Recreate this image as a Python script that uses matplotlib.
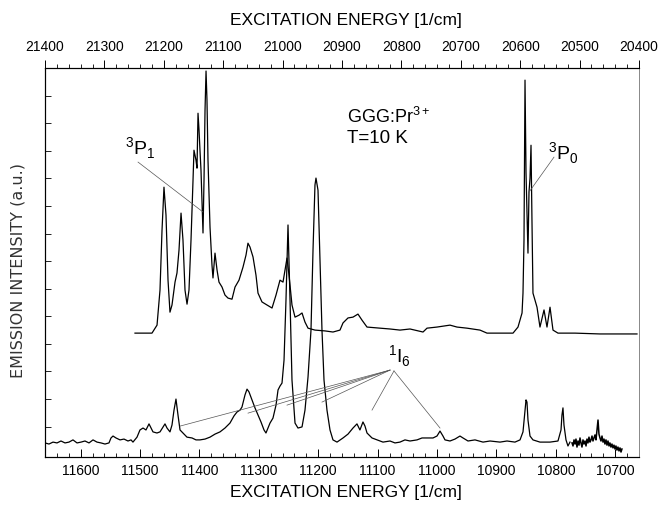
import matplotlib
matplotlib.use("Agg")
import matplotlib.pyplot as plt
from matplotlib.ticker import MultipleLocator, FormatStrFormatter

plt.rcParams["font.family"] = ["Liberation Sans", "DejaVu Sans"]

# ---- upper spectrum (3P levels, top axis, cm^-1) ----
upper_E = [21248.5, 21219.9, 21211.4, 21206.4, 21203.0, 21199.7, 21196.3, 21192.9, 21189.6, 21186.2,
           21181.1, 21177.8, 21174.4, 21171.0, 21167.7, 21164.3, 21160.9, 21157.6, 21154.2, 21150.8,
           21149.2, 21145.8, 21144.1, 21142.4, 21140.7, 21139.1, 21137.4, 21134.0, 21132.3, 21130.6,
           21128.9, 21127.3, 21125.6, 21122.2, 21118.9, 21117.2, 21113.8, 21110.4, 21107.1, 21102.0,
           21097.0, 21091.9, 21085.2, 21080.1, 21073.4, 21066.7, 21061.6, 21058.3, 21054.9, 21049.8,
           21044.8, 21041.4, 21034.7, 21026.3, 21017.8, 21011.1, 21004.4, 20999.3, 20995.9, 20992.6,
           20989.2, 20984.2, 20979.1, 20972.4, 20967.3, 20962.3, 20957.2, 20945.5, 20928.6, 20915.2,
           20903.4, 20898.3, 20889.9, 20881.5, 20873.1, 20866.3, 20857.9, 20836.0, 20819.2, 20802.4,
           20785.5, 20763.6, 20756.9, 20740.1, 20718.2, 20706.4, 20689.6, 20667.7, 20655.9, 20634.0,
           20612.1, 20603.7, 20596.9, 20595.3, 20593.6, 20591.9, 20590.2, 20586.9, 20585.2, 20583.5,
           20581.8, 20580.2, 20578.5, 20571.7, 20566.7, 20559.9, 20554.9, 20549.8, 20544.8, 20536.4,
           20507.7, 20465.7, 20403.4]
upper_I = [4.39, 4.39, 4.68, 5.95, 8.12, 9.68, 8.67, 6.31, 5.15, 5.41,
           6.24, 6.57, 7.40, 8.74, 7.76, 5.95, 5.44, 5.95, 7.76, 9.94,
           11.02, 10.66, 10.37, 12.36, 11.75, 11.02, 10.30, 8.02, 9.94, 12.47,
           13.89, 12.83, 10.66, 8.23, 6.86, 6.39, 7.29, 6.68, 6.24, 6.06,
           5.77, 5.66, 5.62, 6.06, 6.31, 6.78, 7.22, 7.65, 7.51, 7.15,
           6.49, 5.84, 5.52, 5.41, 5.30, 5.77, 6.31, 6.24, 6.68, 7.11,
           6.49, 5.41, 4.97, 5.04, 5.12, 4.79, 4.57, 4.50, 4.47, 4.43,
           4.50, 4.76, 4.94, 4.97, 5.08, 4.86, 4.61, 4.57, 4.54, 4.50,
           4.54, 4.43, 4.57, 4.61, 4.68, 4.61, 4.57, 4.50, 4.39, 4.39,
           4.39, 4.61, 5.12, 5.84, 7.76, 13.56, 10.19, 7.29, 9.50, 10.00,
           11.20, 8.49, 5.84, 5.33, 4.61, 5.23, 4.61, 5.33, 4.50, 4.39,
           4.39, 4.36, 4.36]

# ---- lower spectrum (1I6 region, bottom axis, cm^-1) ----
lower_E = [11660.0, 11653.3, 11646.5, 11639.8, 11633.1, 11626.3, 11619.6, 11612.9, 11606.1, 11599.4,
           11592.7, 11585.9, 11579.2, 11572.5, 11565.7, 11559.0, 11552.3, 11548.9, 11545.5, 11540.5,
           11533.7, 11527.0, 11520.3, 11515.2, 11511.9, 11505.1, 11500.1, 11495.0, 11490.0, 11484.9,
           11481.5, 11478.2, 11471.5, 11466.4, 11461.3, 11458.0, 11454.6, 11449.6, 11446.2, 11442.8,
           11439.5, 11436.1, 11432.7, 11426.0, 11421.0, 11412.5, 11405.8, 11399.1, 11390.6, 11382.2,
           11373.8, 11365.4, 11357.0, 11348.6, 11341.8, 11336.8, 11331.7, 11328.4, 11323.3, 11319.9,
           11316.6, 11311.5, 11306.5, 11301.4, 11296.4, 11291.3, 11288.0, 11284.6, 11281.2, 11276.2,
           11271.1, 11267.7, 11264.4, 11261.0, 11257.6, 11254.3, 11250.9, 11247.5, 11244.2, 11239.1,
           11234.1, 11227.3, 11222.3, 11217.2, 11212.2, 11208.8, 11205.5, 11203.8, 11200.4, 11197.0,
           11193.7, 11190.3, 11185.3, 11180.2, 11175.2, 11168.4, 11158.3, 11149.9, 11141.5, 11134.8,
           11129.8, 11124.7, 11121.3, 11117.9, 11109.5, 11101.1, 11091.0, 11079.2, 11070.8, 11062.4,
           11054.0, 11045.5, 11033.7, 11025.3, 11016.9, 11006.8, 11000.1, 10995.0, 10990.0, 10986.6,
           10978.2, 10969.8, 10961.4, 10956.3, 10947.9, 10936.1, 10922.6, 10910.8, 10894.0, 10882.2,
           10868.8, 10860.3, 10855.3, 10851.9, 10850.2, 10848.6, 10846.9, 10843.5, 10838.5, 10826.7,
           10809.8, 10796.4, 10791.3, 10789.7, 10788.0, 10786.3, 10782.9, 10779.6, 10776.2]
lower_I = [0.41, 0.37, 0.44, 0.41, 0.48, 0.41, 0.44, 0.52, 0.41, 0.44,
           0.48, 0.41, 0.52, 0.44, 0.41, 0.37, 0.41, 0.59, 0.66, 0.59,
           0.52, 0.55, 0.48, 0.52, 0.44, 0.62, 0.88, 0.95, 0.88, 1.10,
           0.95, 0.81, 0.77, 0.81, 0.99, 1.10, 0.95, 0.81, 1.06, 1.60,
           2.00, 1.42, 0.88, 0.73, 0.62, 0.59, 0.52, 0.52, 0.55, 0.62,
           0.73, 0.81, 0.95, 1.13, 1.39, 1.53, 1.60, 1.71, 2.15, 2.36,
           2.26, 1.97, 1.68, 1.42, 1.17, 0.88, 0.77, 0.95, 1.13, 1.31,
           1.78, 2.33, 2.47, 2.58, 3.41, 5.59, 8.31, 5.59, 2.69, 1.13,
           0.95, 0.99, 1.60, 2.80, 4.50, 7.40, 9.76, 10.01, 9.57, 7.04,
           4.50, 2.69, 1.60, 0.88, 0.52, 0.44, 0.59, 0.73, 0.95, 1.10,
           0.88, 1.17, 1.02, 0.77, 0.59, 0.52, 0.44, 0.48, 0.41, 0.44,
           0.52, 0.48, 0.52, 0.59, 0.59, 0.59, 0.66, 0.84, 0.66, 0.52,
           0.48, 0.55, 0.66, 0.59, 0.48, 0.52, 0.44, 0.48, 0.44, 0.48,
           0.44, 0.52, 0.81, 1.60, 1.97, 1.89, 1.24, 0.66, 0.52, 0.44,
           0.44, 0.48, 0.88, 1.42, 1.68, 1.06, 0.52, 0.30, 0.44]

# noisy tail of the lower spectrum
tail_E = [10772.8, 10771.1, 10769.4, 10767.7, 10766.1, 10764.4, 10762.7, 10761.0, 10759.3, 10757.7,
          10756.0, 10754.3, 10752.6, 10750.9, 10749.2, 10747.6, 10745.9, 10744.2, 10742.5, 10740.8,
          10739.1, 10737.5, 10735.8, 10734.1, 10732.4, 10730.7, 10729.0, 10727.4, 10725.7, 10724.0,
          10722.3, 10720.6, 10718.9, 10717.3, 10715.6, 10713.9, 10712.2, 10710.5, 10708.9, 10707.2,
          10705.5, 10703.8, 10702.1, 10700.4, 10698.8, 10697.1, 10695.4, 10693.7, 10692.0, 10690.3,
          10688.7]
tail_I = [0.41, 0.30, 0.52, 0.37, 0.55, 0.26, 0.48, 0.33, 0.59, 0.41,
          0.26, 0.52, 0.37, 0.48, 0.30, 0.55, 0.41, 0.62, 0.44, 0.52,
          0.66, 0.48, 0.59, 0.70, 0.52, 0.88, 1.24, 0.73, 0.59, 0.48,
          0.66, 0.44, 0.55, 0.37, 0.52, 0.33, 0.48, 0.30, 0.41, 0.26,
          0.37, 0.23, 0.33, 0.19, 0.30, 0.15, 0.26, 0.12, 0.23, 0.08,
          0.19]

# 1I6 pointer lines (bottom axis): targets
i6_left_E = [11432.7, 11318.2, 11252.6, 11193.7]
i6_left_I = [1.02, 1.49, 1.78, 1.89]
i6_right_E = [11109.5, 10995.0]
i6_right_I = [1.60, 0.95]

fig = plt.figure(figsize=(6.6, 5.12), dpi=100)
ax = fig.add_axes([45/660, 55/512, 594/660, 389/512])
ax2 = ax.twiny()

ax.set_xlim(11660, 10660)
ax2.set_xlim(21400, 20400)
ax.set_ylim(-0.1, 14.0)

ax.plot(lower_E, lower_I, color="black", lw=0.9)
ax.plot(tail_E, tail_I, color="black", lw=1.1)
ax2.plot(upper_E, upper_I, color="black", lw=0.9)

# axis styling
for a in (ax, ax2):
    a.spines["right"].set_color("#888888")
    a.spines["right"].set_linewidth(0.6)
ax.xaxis.set_major_locator(MultipleLocator(100))
ax.xaxis.set_minor_locator(MultipleLocator(20))
ax.xaxis.set_major_formatter(FormatStrFormatter("%d"))
ax2.xaxis.set_major_locator(MultipleLocator(100))
ax2.xaxis.set_minor_locator(MultipleLocator(20))
ax2.xaxis.set_major_formatter(FormatStrFormatter("%d"))
ax.tick_params(axis="x", which="major", direction="in", length=6, width=0.7, pad=5, labelsize=10)
ax.tick_params(axis="x", which="minor", direction="in", length=3, width=0.6)
ax2.tick_params(axis="x", which="major", direction="out", length=6, width=0.7, pad=4, labelsize=10)
ax2.tick_params(axis="x", which="minor", direction="out", length=3, width=0.6)
ax.set_yticks(range(1, 14))
ax.tick_params(axis="y", direction="in", length=4, width=0.6, labelleft=False)

# axis titles
fig.text(346/660, 1 - 20/512, "EXCITATION ENERGY [1/cm]", ha="center", va="center", fontsize=12.5)
fig.text(346/660, 1 - 493/512, "EXCITATION ENERGY [1/cm]", ha="center", va="center", fontsize=12.5)
fig.text(18/660, 1 - 271/512, "EMISSION INTENSITY (a.u.)", rotation=90, ha="center", va="center",
         fontsize=11.5, family="DejaVu Sans", color="#333333")

# labels
ax.text(0.508, 0.859, r"GGG:Pr$^{\mathregular{3+}}$", transform=ax.transAxes, fontsize=13, va="baseline")
ax.text(0.508, 0.807, "T=10 K", transform=ax.transAxes, fontsize=13.5, va="baseline")

ax2.text(21265.3, 10.84, r"$^{\mathregular{3}}$P$_{\mathregular{1}}$", fontsize=14, va="baseline")
ax2.plot([21243.4, 21134.0], [10.59, 8.78], color="#555555", lw=0.5)
ax2.text(20553.2, 10.66, r"$^{\mathregular{3}}$P$_{\mathregular{0}}$", fontsize=14, va="baseline")
ax2.plot([20543.1, 20585.2], [10.77, 9.50], color="#555555", lw=0.5)

ax.text(11083.0, 3.30, r"$^{\mathregular{1}}$I$_{\mathregular{6}}$", fontsize=14, va="baseline")
for e, v in zip(i6_left_E, i6_left_I):
    ax.plot([11079.2, e], [3.05, v], color="#555555", lw=0.5)
for e, v in zip(i6_right_E, i6_right_I):
    ax.plot([11072.5, e], [3.02, v], color="#555555", lw=0.5)

fig.savefig("out.png", dpi=100)
